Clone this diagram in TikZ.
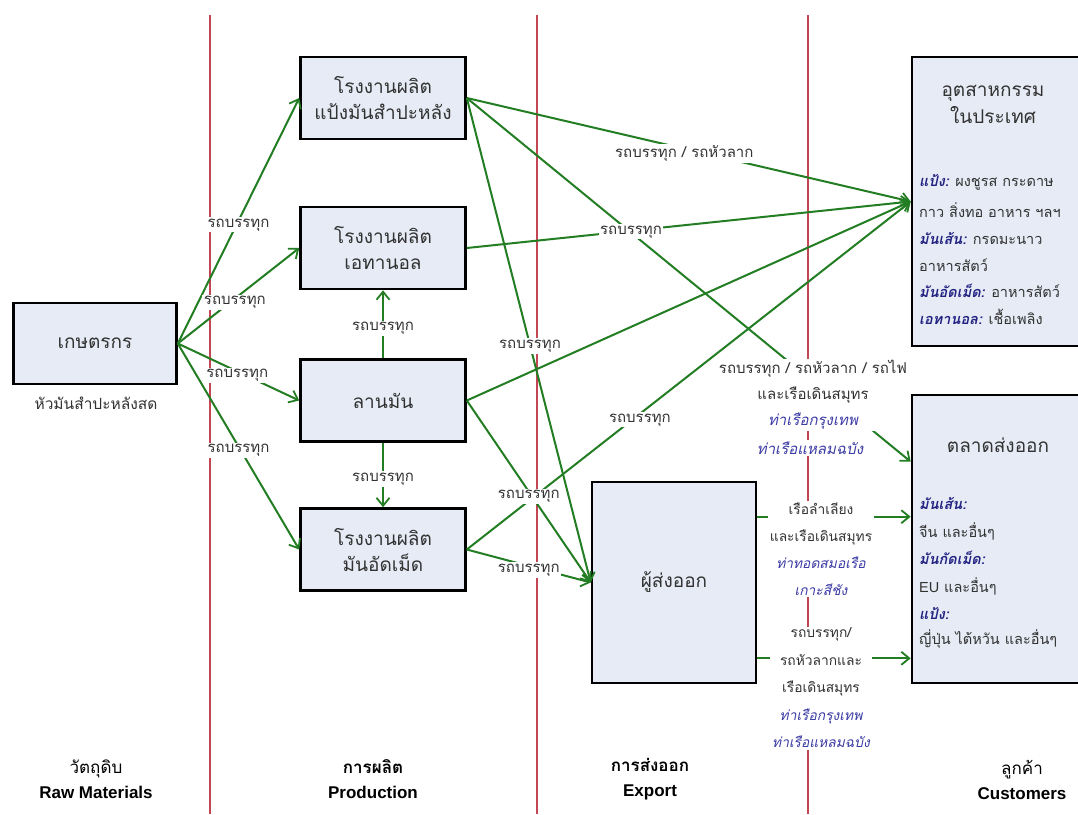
\documentclass[tikz,border=0pt]{standalone}
\usepackage{fontspec}
\setmainfont{Liberation Sans}
\newfontfamily\thai[Script=Thai]{Loma}
\usetikzlibrary{arrows.meta}
\definecolor{boxfill}{RGB}{230,235,245}
\definecolor{arrgreen}{RGB}{35,125,35}
\definecolor{sepred}{RGB}{195,70,85}
\definecolor{navy}{RGB}{35,35,130}
\definecolor{portblue}{RGB}{60,60,165}
\definecolor{txt}{RGB}{50,50,50}
\newcommand\hdr[1]{{\bfseries\itshape\color{navy}#1}}
\newcommand\port[1]{{\itshape\color{portblue}#1}}
\pgfdeclarelayer{fg}
\pgfsetlayers{main,fg}
\tikzset{
  box/.style={draw=black, line width=2.6pt, fill=boxfill, align=center, text=txt,
    font=\thai\fontsize{19}{26}\selectfont, inner sep=0pt},
  pbox/.style={box, minimum width=165pt, minimum height=82pt},
  lbl/.style={fill=white, inner sep=1.5pt, text=txt, align=center,
    font=\thai\fontsize{15}{26}\selectfont},
  elbl/.style={lbl, yshift=-4pt},
  lst/.style={inner sep=0pt, text=txt, anchor=west, font=\thai\fontsize{14.5}{20}\selectfont},
  ttl/.style={inner sep=0pt, text=txt, align=center, font=\thai\fontsize{19}{27}\selectfont},
  bot/.style={inner sep=0pt, text=black, align=center, font=\fontsize{17}{25}\selectfont},
  arr/.style={draw=arrgreen, line width=2pt,
    -{Straight Barb[length=8pt,width=13pt,line width=1.8pt]}},
  sep/.style={draw=sepred, line width=1.1pt}
}
\begin{document}
\begin{tikzpicture}[x=1pt,y=-1pt]
\clip (0,0) rectangle (1078,814);
\fill[white] (0,0) rectangle (1078,814);
% separators
\draw[sep] (210,15) -- (210,814);
\draw[sep] (537,15) -- (537,814);
\draw[sep] (808,15) -- (808,814);
% boxes
\node[box, minimum width=163pt, minimum height=81pt] (farm) at (95,343.5) {เกษตรกร};
\node[pbox] (starch) at (383,98) {โรงงานผลิต\\แป้งมันสำปะหลัง};
\node[pbox] (eth) at (383,248) {โรงงานผลิต\\เอทานอล};
\node[pbox] (yard) at (383,400.5) {ลานมัน};
\node[pbox] (pellet) at (383,549.5) {โรงงานผลิต\\มันอัดเม็ด};
\node[box, minimum width=164pt, minimum height=201pt] (exp) at (674,582.5) {ผู้ส่งออก};
\node[box, minimum width=180pt, minimum height=289pt] (dom) at (1002,201.5) {};
\node[box, minimum width=180pt, minimum height=288pt] (mkt) at (1002,539) {};
% texts inside customer boxes
\node[ttl] (domt) at (993,104.5) {อุตสาหกรรม\\ในประเทศ};
\node[lst] (d1) at (919,182) {\hdr{แป้ง:} ผงชูรส กระดาษ};
\node[lst] (d2) at (919,210) {กาว สิ่งทอ อาหาร ฯลฯ};
\node[lst] (d3) at (919,238) {\hdr{มันเส้น:} กรดมะนาว};
\node[lst] (d4) at (919,265) {อาหารสัตว์};
\node[lst] (d5) at (919,291) {\hdr{มันอัดเม็ด:} อาหารสัตว์};
\node[lst] (d6) at (919,317) {\hdr{เอทานอล:} เชื้อเพลิง};
\node[ttl] (mktt) at (998,445) {ตลาดส่งออก};
\node[lst] (m1) at (919,503) {\hdr{มันเส้น:}};
\node[lst] (m2) at (919,531) {จีน และอื่นๆ};
\node[lst] (m3) at (919,558) {\hdr{มันกัดเม็ด:}};
\node[lst] (m4) at (919,586) {{\rmfamily EU} และอื่นๆ};
\node[lst] (m5) at (919,613) {\hdr{แป้ง:}};
\node[lst] (m6) at (919,639) {ญี่ปุ่น ไต้หวัน และอื่นๆ};
% caption under farmer box
\node[inner sep=0pt, text=txt, font=\thai\fontsize{15.5}{18}\selectfont] (farmcap) at (96,403) {หัวมันสำปะหลังสด};
% coordinates
\coordinate (mktin) at ([yshift=-68pt]mkt.north west);
\coordinate (e1) at ([yshift=-36pt]exp.north east);
\coordinate (e2) at ([yshift=26pt]exp.south east);
% connectors
\draw[arr] (farm.east) -- (starch.west);
\draw[arr] (farm.east) -- (eth.west);
\draw[arr] (farm.east) -- (yard.west);
\draw[arr] (farm.east) -- (pellet.west);
\draw[arr] (yard.north) -- (eth.south);
\draw[arr] (yard.south) -- (pellet.north);
\draw[arr] (starch.east) -- (dom.west);
\draw[arr] (eth.east) -- (dom.west);
\draw[arr] (yard.east) -- (dom.west);
\draw[arr] (pellet.east) -- (dom.west);
\draw[arr] (starch.east) -- (exp.west);
\draw[arr] (yard.east) -- (exp.west);
\draw[arr] (pellet.east) -- (exp.west);
\draw[arr] (starch.east) -- (mktin);
\draw[arr] (e1) -- (e1 -| mkt.west);
\draw[arr] (e2) -- (e2 -| mkt.west);
% labels
\begin{pgfonlayer}{fg}
\path (farm.east) -- node[elbl] (l1) {รถบรรทุก} (starch.west);
\path (farm.east) -- node[elbl, pos=0.47] (l2) {รถบรรทุก} (eth.west);
\path (farm.east) -- node[elbl, pos=0.49] (l3) {รถบรรทุก} (yard.west);
\path (farm.east) -- node[elbl, pos=0.5] (l4) {รถบรรทุก} (pellet.west);
\path (yard.north) -- node[elbl] (l5) {รถบรรทุก} (eth.south);
\path (yard.south) -- node[elbl] (l6) {รถบรรทุก} (pellet.north);
\path (starch.east) -- node[elbl, pos=0.49, yshift=-1pt] (l7) {รถบรรทุก / รถหัวลาก} (dom.west);
\path (eth.east) -- node[elbl, pos=0.37, yshift=3pt] (l8) {รถบรรทุก} (dom.west);
\path (pellet.east) -- node[elbl, pos=0.39, yshift=-2pt] (l9) {รถบรรทุก} (dom.west);
\path (starch.east) -- node[elbl, pos=0.51, yshift=3pt] (l10) {รถบรรทุก} (exp.west);
\path (yard.east) -- node[elbl, pos=0.5, yshift=-1pt] (l11) {รถบรรทุก} (exp.west);
\path (pellet.east) -- node[elbl, pos=0.5] (l12) {รถบรรทุก} (exp.west);
\node[lbl, inner xsep=1pt] (l13) at (813,395) {รถบรรทุก / รถหัวลาก / รถไฟ\\และเรือเดินสมุทร\\\port{ท่าเรือกรุงเทพ}};
\node[lbl] (l14) at (810,448) {\port{ท่าเรือแหลมฉบัง}};
\node[lbl, font=\thai\fontsize{13.8}{27}\selectfont, inner xsep=2pt] (l15) at (821,549) {เรือลำเลียง\\และเรือเดินสมุทร\\\port{ท่าทอดสมอเรือ}\\\port{เกาะสีชัง}};
\node[lbl, font=\thai\fontsize{13.8}{27.5}\selectfont, inner xsep=2pt] (l16) at (821,688) {รถบรรทุก/\\รถหัวลากและ\\เรือเดินสมุทร\\\port{ท่าเรือกรุงเทพ}\\\port{ท่าเรือแหลมฉบัง}};
\end{pgfonlayer}
% column captions
\node[bot] (c1) at (96,779.5) {{\thai วัตถุดิบ}\\\textbf{Raw Materials}};
\node[bot] (c2) at (373,779.5) {{\thai\bfseries การผลิต}\\\textbf{Production}};
\node[bot] (c3) at (650,779.5) {{\thai\bfseries การส่งออก}\\\textbf{Export}};
\node[bot] (c4) at (1022,779.5) {{\thai ลูกค้า}\\\textbf{Customers}};
\end{tikzpicture}
\end{document}
